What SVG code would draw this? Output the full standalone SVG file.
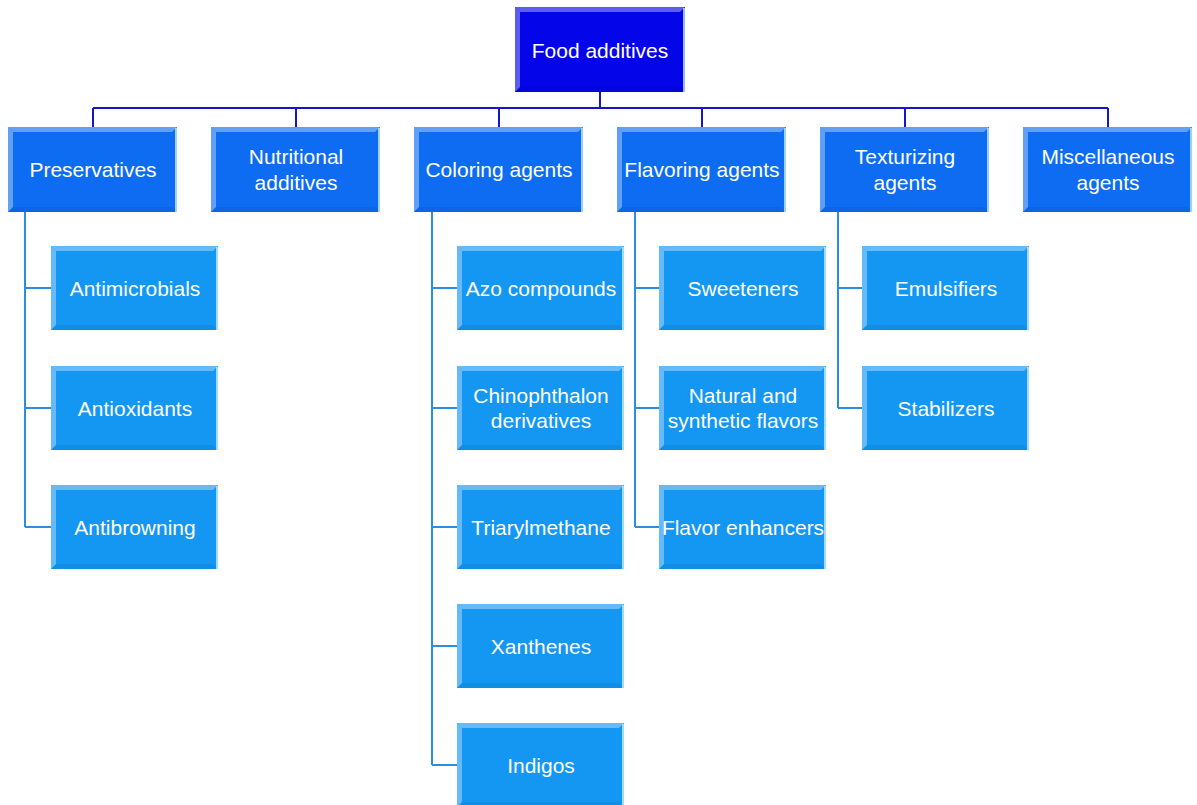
<svg xmlns="http://www.w3.org/2000/svg" xmlns:xlink="http://www.w3.org/1999/xlink" width="1197" height="805" viewBox="0 0 1197 805">
<style>
text{font-family:"Liberation Sans",Arial,sans-serif;font-size:21px;fill:#ffffff;text-anchor:middle;dominant-baseline:central}
.l0{fill:#0505EA}
.l1{fill:#0E6CF3}
.l2{fill:#1496F3}
.c0{stroke:#1515CC;stroke-width:2;fill:none}
.c1{stroke:#2A8FE2;stroke-width:2;fill:none}
.hl{fill:#ffffff;fill-opacity:0.35}
.rl{stroke:#CFF2FF;stroke-width:1.5;fill:none}
.sh{fill:#000000;fill-opacity:0.06}
</style>
<defs>
<g id="bev0">
<polygon class="hl" points="0,0 170,0 165,5 5,5"/>
<polygon class="hl" points="0,0 5,5 5,80 0,85" fill-opacity="0.12"/>
<polygon class="sh" points="0,85 5,80 165,80 170,85"/>
<line class="rl" x1="169" y1="1" x2="169" y2="85"/>
</g>
<g id="bev1">
<polygon class="hl" points="0,0 169,0 164,5 5,5"/>
<polygon class="hl" points="0,0 5,5 5,80 0,85" fill-opacity="0.12"/>
<polygon class="sh" points="0,85 5,80 164,80 169,85"/>
<line class="rl" x1="168" y1="1" x2="168" y2="85"/>
</g>
<g id="bev2">
<polygon class="hl" points="0,0 167,0 162,5 5,5"/>
<polygon class="hl" points="0,0 5,5 5,79 0,84" fill-opacity="0.12"/>
<polygon class="sh" points="0,84 5,79 162,79 167,84"/>
<line class="rl" x1="166" y1="1" x2="166" y2="84"/>
</g>
</defs>
<rect width="1197" height="805" fill="#ffffff"/>
<g id="connectors">
<path class="c0" d="M600,92 V108 M93,108 H1108 M93,108 V127 M296,108 V127 M499,108 V127 M702,108 V127 M905,108 V127 M1108,108 V127"/>
<path class="c1" d="M25,212 V527 M25,288 H51 M25,408 H51 M25,527 H51"/>
<path class="c1" d="M432,212 V765 M432,288 H457 M432,408 H457 M432,527 H457 M432,646 H457 M432,765 H457"/>
<path class="c1" d="M635,212 V527 M635,288 H659 M635,408 H659 M635,527 H659"/>
<path class="c1" d="M838,212 V408 M838,288 H862 M838,408 H862"/>
</g>
<g id="root"><rect class="l0" x="515" y="7" width="170" height="85"/><use href="#bev0" x="515" y="7"/><text x="600" y="50">Food additives</text></g>
<g id="preservatives"><rect class="l1" x="8" y="127" width="169" height="85"/><use href="#bev1" x="8" y="127"/><text x="93" y="169">Preservatives</text></g>
<g id="nutritional"><rect class="l1" x="211" y="127" width="169" height="85"/><use href="#bev1" x="211" y="127"/><text x="296" y="156">Nutritional</text><text x="296" y="182">additives</text></g>
<g id="coloring"><rect class="l1" x="414" y="127" width="169" height="85"/><use href="#bev1" x="414" y="127"/><text x="499" y="169">Coloring agents</text></g>
<g id="flavoring"><rect class="l1" x="617" y="127" width="169" height="85"/><use href="#bev1" x="617" y="127"/><text x="702" y="169">Flavoring agents</text></g>
<g id="texturizing"><rect class="l1" x="820" y="127" width="169" height="85"/><use href="#bev1" x="820" y="127"/><text x="905" y="156">Texturizing</text><text x="905" y="182">agents</text></g>
<g id="miscellaneous"><rect class="l1" x="1023" y="127" width="169" height="85"/><use href="#bev1" x="1023" y="127"/><text x="1108" y="156">Miscellaneous</text><text x="1108" y="182">agents</text></g>
<g id="antimicrobials"><rect class="l2" x="51" y="246" width="167" height="84"/><use href="#bev2" x="51" y="246"/><text x="135" y="288">Antimicrobials</text></g>
<g id="antioxidants"><rect class="l2" x="51" y="366" width="167" height="84"/><use href="#bev2" x="51" y="366"/><text x="135" y="408">Antioxidants</text></g>
<g id="antibrowning"><rect class="l2" x="51" y="485" width="167" height="84"/><use href="#bev2" x="51" y="485"/><text x="135" y="527">Antibrowning</text></g>
<g id="azo"><rect class="l2" x="457" y="246" width="167" height="84"/><use href="#bev2" x="457" y="246"/><text x="541" y="288">Azo compounds</text></g>
<g id="chinophthalon"><rect class="l2" x="457" y="366" width="167" height="84"/><use href="#bev2" x="457" y="366"/><text x="541" y="395">Chinophthalon</text><text x="541" y="420">derivatives</text></g>
<g id="triarylmethane"><rect class="l2" x="457" y="485" width="167" height="84"/><use href="#bev2" x="457" y="485"/><text x="541" y="527">Triarylmethane</text></g>
<g id="xanthenes"><rect class="l2" x="457" y="604" width="167" height="84"/><use href="#bev2" x="457" y="604"/><text x="541" y="646">Xanthenes</text></g>
<g id="indigos"><rect class="l2" x="457" y="723" width="167" height="84"/><use href="#bev2" x="457" y="723"/><text x="541" y="765">Indigos</text></g>
<g id="sweeteners"><rect class="l2" x="659" y="246" width="167" height="84"/><use href="#bev2" x="659" y="246"/><text x="743" y="288">Sweeteners</text></g>
<g id="natural"><rect class="l2" x="659" y="366" width="167" height="84"/><use href="#bev2" x="659" y="366"/><text x="743" y="395">Natural and</text><text x="743" y="420">synthetic flavors</text></g>
<g id="enhancers"><rect class="l2" x="659" y="485" width="167" height="84"/><use href="#bev2" x="659" y="485"/><text x="743" y="527">Flavor enhancers</text></g>
<g id="emulsifiers"><rect class="l2" x="862" y="246" width="167" height="84"/><use href="#bev2" x="862" y="246"/><text x="946" y="288">Emulsifiers</text></g>
<g id="stabilizers"><rect class="l2" x="862" y="366" width="167" height="84"/><use href="#bev2" x="862" y="366"/><text x="946" y="408">Stabilizers</text></g>
</svg>
